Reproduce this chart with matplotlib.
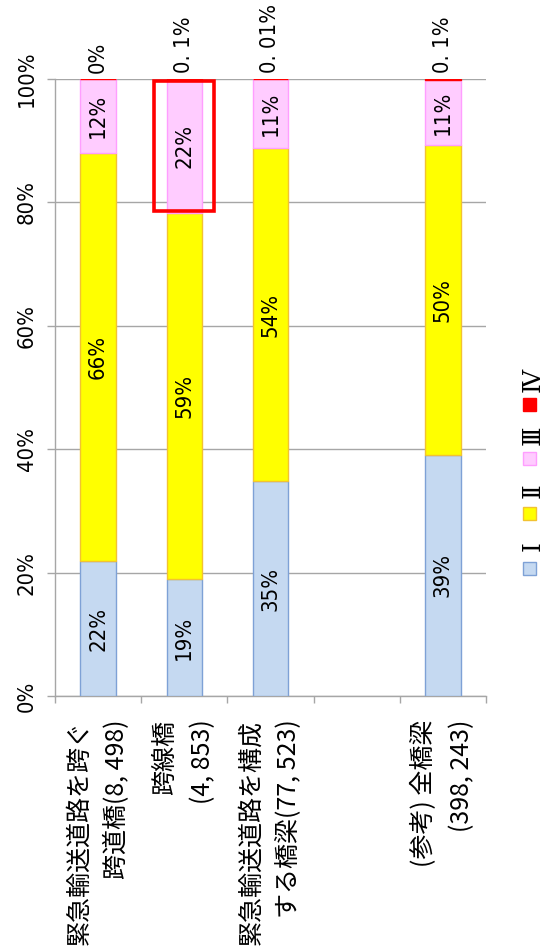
import numpy as np
import matplotlib
matplotlib.use("Agg")
import matplotlib.pyplot as plt
from matplotlib import font_manager
from matplotlib.font_manager import FontProperties
from matplotlib.patches import Rectangle

# ---- data ----
categories = [
    "緊急輸送道路を跨ぐ\n跨道橋(8, 498)",
    "跨線橋\n(4, 853)",
    "緊急輸送道路を構成\nする橋梁(77, 523)",
    "",
    "(参考) 全橋梁\n(398, 243)",
]
rank_names = ["Ⅰ", "Ⅱ", "Ⅲ", "Ⅳ"]
rank_I = [21.8, 18.9, 34.8, 0.0, 39.1]
rank_II = [66.2, 59.4, 54.0, 0.0, 50.2]
rank_III = [12.0, 21.6, 11.19, 0.0, 10.6]
rank_IV = [0.0, 0.1, 0.01, 0.0, 0.1]
has_bar = [True, True, True, False, True]
y_ticks = [0, 20, 40, 60, 80, 100]

fill_colors = ["#C5D9F1", "#FFFF00", "#FFCCFF", "#FF0000"]
edge_colors = ["#7EA1D6", "#F2C232", "#FF9EFF", "#FF0000"]

# ---- fonts ----
CJK = "Noto Sans CJK JP"
plt.rcParams["font.family"] = [CJK, "DejaVu Sans"]


def narrow_font():
    """Pick a condensed sans face for the percentages, if one exists."""
    faces = font_manager.fontManager.ttflist

    def regular(f):
        return f.style == "normal" and f.weight in (400, "normal", "regular")
    for f in faces:
        if f.name == "Liberation Sans Narrow" and regular(f):
            return f.fname
    for f in faces:
        if f.name == "DejaVu Sans" and str(f.stretch) in ("condensed", "semi-condensed") and regular(f):
            return f.fname
    return font_manager.findfont("Liberation Sans")


num_path = narrow_font()

W, H = 546, 948
fig = plt.figure(figsize=(W / 100, H / 100), dpi=100)
renderer = fig.canvas.get_renderer()

# size the percentage font so the longest label keeps a fixed length
probe = fig.text(0, 0, "0. 01%", fontproperties=FontProperties(fname=num_path, size=17))
probe_len = probe.get_window_extent(renderer).width
probe.remove()
num_fp = FontProperties(fname=num_path, size=min(17.0, 17.0 * 69.0 / probe_len))

ax = fig.add_axes([55 / W, 1 - 696 / H, (486 - 55) / W, (696 - 79) / H])

x = np.arange(len(categories))
idx = [i for i, b in enumerate(has_bar) if b]
series = [np.array(rank_I), np.array(rank_II), np.array(rank_III), np.array(rank_IV)]
bar_w = 0.41
bottom = np.zeros(len(categories))
for vals, fc, ec in zip(series, fill_colors, edge_colors):
    ax.bar(x[idx], vals[idx], bar_w, bottom=bottom[idx], color=fc,
           edgecolor=ec, linewidth=1.0, zorder=3)
    bottom = bottom + vals

# percentage labels inside the segments (ranks I-III)
bottom = np.zeros(len(categories))
for vals in series[:3]:
    for i in idx:
        ax.text(x[i], bottom[i] + vals[i] / 2, f"{vals[i]:.0f}%",
                rotation=90, ha="center", va="center",
                fontproperties=num_fp, zorder=5)
    bottom = bottom + vals

# rank IV labels above the bars
for i in idx:
    txt = f"{rank_IV[i]:g}".replace(".", ". ") + "%"
    ax.annotate(txt, (x[i], bottom[i]), xytext=(0, 4.5),
                textcoords="offset points", rotation=90,
                ha="center", va="bottom", fontproperties=num_fp,
                annotation_clip=False)

# highlight box around rank III of 跨線橋
hl = 1
ax.add_patch(Rectangle((x[hl] - 0.35, 78.6), 0.70, 21.1, fill=False,
                       edgecolor="#FF0000", linewidth=2.6, zorder=6,
                       clip_on=False, joinstyle="miter"))

# axes styling
grid_c = "#A6A6A6"
ax.set_xlim(-0.5, len(categories) - 0.5)
ax.set_ylim(0, 100)
ax.set_yticks(y_ticks)
ax.set_yticklabels([f"{v}%" for v in y_ticks], fontproperties=num_fp,
                   rotation=90, va="center")
ax.yaxis.grid(True, color=grid_c, linewidth=1.0, zorder=0)
ax.set_axisbelow(True)
for s in ["top", "right"]:
    ax.spines[s].set_visible(False)
for s in ["left", "bottom"]:
    ax.spines[s].set_color(grid_c)
    ax.spines[s].set_linewidth(1.0)
ax.tick_params(axis="y", length=6, width=1.0, color=grid_c, pad=7)

# category labels: rotated, each line placed side by side, end-aligned
ax.set_xticks([])
ax.set_xticks(np.arange(len(categories) + 1) - 0.5, minor=True)
ax.tick_params(axis="x", which="minor", length=5, width=1.0, color=grid_c)
line_step = 27.0  # points between the two lines of a label
for i, cat in enumerate(categories):
    lines = cat.split("\n") if cat else []
    n = len(lines)
    for j, line in enumerate(lines):
        dx = (j - (n - 1) / 2) * line_step
        ax.annotate(line, (x[i], 0), xytext=(dx, -17),
                    textcoords="offset points", rotation=90,
                    ha="center", va="top", fontsize=18,
                    annotation_clip=False)

# legend (stacked vertically, rotated text)
leg_x = 529
leg_marker_y = [568, 513, 458, 404]
leg_text_y = [546, 491, 435, 380]
sq = 13
for name, fc, ec, my, ty in zip(rank_names, fill_colors, edge_colors,
                                leg_marker_y, leg_text_y):
    fig.add_artist(Rectangle(((leg_x - sq / 2) / W, 1 - (my + sq / 2) / H),
                             sq / W, sq / H, facecolor=fc, edgecolor=ec,
                             linewidth=1.0, transform=fig.transFigure))
    fig.text((leg_x + 4) / W, 1 - ty / H, name, rotation=90, ha="center",
             va="center", fontsize=18, family=["DejaVu Serif", CJK])

fig.savefig("out.png", dpi=100)
